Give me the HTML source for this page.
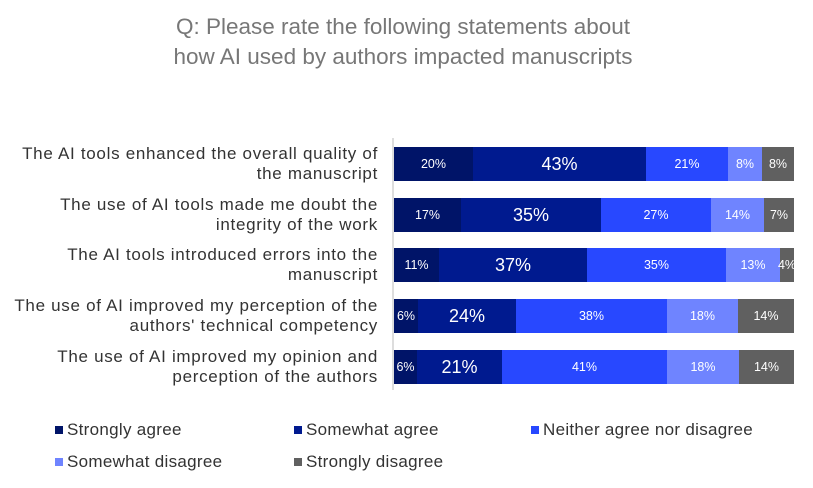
<!DOCTYPE html>
<html><head><style>
body{margin:0;width:813px;height:488px;background:#fff;font-family:"Liberation Sans",sans-serif;position:relative;overflow:hidden}
.t{position:absolute;left:0;width:806px;text-align:center;color:#777;font-size:22.5px}
.lab{position:absolute;right:435px;text-align:right;color:#333;font-size:17px;letter-spacing:0.7px;line-height:20px;width:420px;white-space:nowrap}
.seg{position:absolute;height:34px;color:#fff;font-size:12.5px;display:flex;align-items:center;justify-content:center;white-space:nowrap;overflow:visible}
.big{font-size:18px}
.lg{position:absolute;font-size:17px;letter-spacing:0.3px;color:#333;white-space:nowrap}
.lg i{display:inline-block;width:8px;height:8px;margin-right:4px;vertical-align:1px}
</style></head><body>
<div class="t" style="top:14px">Q: Please rate the following statements about</div>
<div class="t" style="top:44px">how AI used by authors impacted manuscripts</div>
<div style="position:absolute;left:392px;top:138px;width:2px;height:252px;background:#ddd"></div>
<div class="lab" style="top:144px">The AI tools enhanced the overall quality of<br>the manuscript</div>
<div class="lab" style="top:195px">The use of AI tools made me doubt the<br>integrity of the work</div>
<div class="lab" style="top:245px">The AI tools introduced errors into the<br>manuscript</div>
<div class="lab" style="top:296px">The use of AI improved my perception of the<br>authors' technical competency</div>
<div class="lab" style="top:347px">The use of AI improved my opinion and<br>perception of the authors</div>

<div class="seg" style="top:147px;left:394px;width:79px;background:#001468">20%</div>
<div class="seg big" style="top:147px;left:473px;width:173px;background:#001a8f">43%</div>
<div class="seg" style="top:147px;left:646px;width:82px;background:#2848ff">21%</div>
<div class="seg" style="top:147px;left:728px;width:34px;background:#6f84ff">8%</div>
<div class="seg" style="top:147px;left:762px;width:32px;background:#606060">8%</div>

<div class="seg" style="top:198px;left:394px;width:67px;background:#001468">17%</div>
<div class="seg big" style="top:198px;left:461px;width:140px;background:#001a8f">35%</div>
<div class="seg" style="top:198px;left:601px;width:110px;background:#2848ff">27%</div>
<div class="seg" style="top:198px;left:711px;width:53px;background:#6f84ff">14%</div>
<div class="seg" style="top:198px;left:764px;width:30px;background:#606060">7%</div>

<div class="seg" style="top:248px;left:394px;width:45px;background:#001468">11%</div>
<div class="seg big" style="top:248px;left:439px;width:148px;background:#001a8f">37%</div>
<div class="seg" style="top:248px;left:587px;width:139px;background:#2848ff">35%</div>
<div class="seg" style="top:248px;left:726px;width:54px;background:#6f84ff">13%</div>
<div class="seg" style="top:248px;left:780px;width:14px;background:#606060">4%</div>

<div class="seg" style="top:299px;left:394px;width:24px;background:#001468">6%</div>
<div class="seg big" style="top:299px;left:418px;width:98px;background:#001a8f">24%</div>
<div class="seg" style="top:299px;left:516px;width:151px;background:#2848ff">38%</div>
<div class="seg" style="top:299px;left:667px;width:71px;background:#6f84ff">18%</div>
<div class="seg" style="top:299px;left:738px;width:56px;background:#606060">14%</div>

<div class="seg" style="top:350px;left:394px;width:23px;background:#001468">6%</div>
<div class="seg big" style="top:350px;left:417px;width:85px;background:#001a8f">21%</div>
<div class="seg" style="top:350px;left:502px;width:165px;background:#2848ff">41%</div>
<div class="seg" style="top:350px;left:667px;width:72px;background:#6f84ff">18%</div>
<div class="seg" style="top:350px;left:739px;width:55px;background:#606060">14%</div>

<div class="lg" style="left:55px;top:420px"><i style="background:#001468"></i>Strongly agree</div>
<div class="lg" style="left:294px;top:420px"><i style="background:#001a8f"></i>Somewhat agree</div>
<div class="lg" style="left:531px;top:420px"><i style="background:#2848ff"></i>Neither agree nor disagree</div>
<div class="lg" style="left:55px;top:452px"><i style="background:#6f84ff"></i>Somewhat disagree</div>
<div class="lg" style="left:294px;top:452px"><i style="background:#606060"></i>Strongly disagree</div>
</body></html>
